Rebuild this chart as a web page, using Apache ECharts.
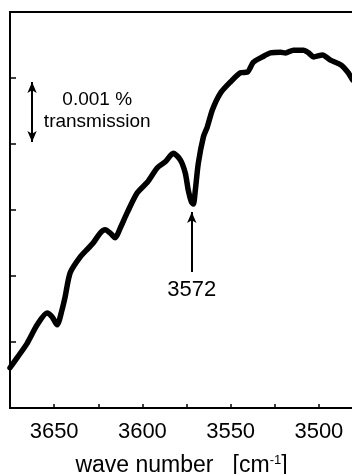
<!DOCTYPE html>
<html>
<head>
<meta charset="utf-8">
<script src="https://cdn.jsdelivr.net/npm/echarts@6/dist/echarts.min.js"></script>
<style>
  html, body { margin: 0; padding: 0; background: #fff; }
  #chart { width: 352px; height: 474px; }
</style>
</head>
<body>
<div id="chart"></div>
<script>
// IR transmission spectrum, O-H stretching region (relative units, 1 unit = 0.001 %)
const waveNumbers = [
  3675.0, 3671.0, 3665.3, 3659.6, 3654.0, 3651.1, 3648.3, 3645.5, 3643.8, 3640.9,
  3635.2, 3630.7, 3627.9, 3623.9, 3621.1, 3618.2, 3615.4, 3612.5, 3608.6, 3602.9,
  3597.2, 3591.5, 3587.0, 3582.5, 3578.5, 3575.7, 3574.0, 3572.2, 3571.1, 3570.0,
  3568.3, 3565.4, 3563.2, 3560.3, 3555.8, 3550.1, 3544.4, 3540.5, 3537.1, 3532.0,
  3527.4, 3521.7, 3518.9, 3514.4, 3508.7, 3505.8, 3503.0, 3497.9, 3493.4, 3487.7,
  3483.7, 3480.9
];
const transmission = [
  -0.39, -0.24, -0.02, 0.26, 0.44, 0.38, 0.26, 0.49, 0.68, 1.05,
  1.29, 1.42, 1.50, 1.65, 1.70, 1.65, 1.58, 1.73, 1.96, 2.26,
  2.42, 2.64, 2.73, 2.86, 2.76, 2.56, 2.30, 2.12, 2.09, 2.30,
  2.71, 3.11, 3.26, 3.52, 3.77, 3.94, 4.08, 4.09, 4.24, 4.32,
  4.38, 4.39, 4.38, 4.42, 4.42, 4.38, 4.32, 4.35, 4.27, 4.20,
  4.09, 3.97
];
const xTickLabels = [3650, 3600, 3550, 3500];

// annotated band and scale bar
const peakLabel = 3572;
const peakArrow = [1.06, 1.97];
const scaleBar = { x: 3662.5, from: 3.03, to: 3.94 };
const scaleText = '0.001 %\ntransmission';
const scaleTextPos = [3625.6, 3.5];

const chart = echarts.init(document.getElementById('chart'), null, { renderer: 'canvas' });
const font = 'Liberation Sans, Arial, Helvetica, sans-serif';

chart.setOption({
  animation: false,
  backgroundColor: '#fff',
  textStyle: { fontFamily: font },
  grid: {
    left: 10, top: 12, width: 353, height: 396,
    containLabel: false,
    outerBoundsMode: 'none',
    show: true, borderColor: '#000', borderWidth: 2, backgroundColor: 'transparent'
  },
  xAxis: {
    type: 'value',
    inverse: true,
    min: 3475, max: 3675, interval: 25,
    axisLine: { show: true, onZero: false, lineStyle: { color: '#000', width: 2 } },
    axisTick: { show: true, inside: true, length: 4, lineStyle: { color: '#000', width: 1.5 } },
    splitLine: { show: false },
    axisLabel: {
      color: '#000', fontSize: 22, fontFamily: font, margin: 13,
      formatter: v => (xTickLabels.indexOf(v) >= 0 ? String(v) : '')
    },
    name: '{t|wave number   [cm}{s|-1}{t|]}',
    nameLocation: 'middle',
    nameGap: 46,
    nameTextStyle: {
      padding: [0, 10, 0, 0],
      rich: {
        t: { fontSize: 23, color: '#000', fontFamily: font },
        s: { fontSize: 13, color: '#000', fontFamily: font, verticalAlign: 'top', padding: [0, 0, 10, 0] }
      }
    }
  },
  yAxis: {
    type: 'value',
    min: -1, max: 5, interval: 1,
    axisLine: { show: true, onZero: false, lineStyle: { color: '#000', width: 2 } },
    axisTick: { show: true, inside: true, length: 6, lineStyle: { color: '#000', width: 1.5 } },
    axisLabel: { show: false },
    splitLine: { show: false }
  },
  series: [{
    type: 'line',
    data: waveNumbers.map((w, i) => [w, transmission[i]]),
    showSymbol: false,
    smooth: 0.25,
    lineStyle: { color: '#000', width: 5.5, cap: 'round', join: 'round' },
    markLine: {
      silent: true,
      symbol: ['none', 'arrow'],
      symbolSize: [7, 11],
      lineStyle: { color: '#000', width: 2, type: 'solid' },
      data: [
        [
          { coord: [peakLabel, peakArrow[0]], symbol: 'none',
            label: { show: true, position: 'start', formatter: String(peakLabel),
                     color: '#000', fontSize: 22, fontFamily: font, distance: 7 } },
          { coord: [peakLabel, peakArrow[1]], symbol: 'arrow' }
        ],
        [
          { coord: [scaleBar.x, scaleBar.from], symbol: 'arrow', label: { show: false } },
          { coord: [scaleBar.x, scaleBar.to], symbol: 'arrow' }
        ]
      ]
    },
    markPoint: {
      silent: true,
      symbol: 'circle', symbolSize: 0,
      data: [{
        coord: scaleTextPos,
        label: {
          show: true, position: 'inside', formatter: scaleText,
          color: '#000', fontSize: 19, lineHeight: 22, fontFamily: font, align: 'center'
        }
      }]
    }
  }]
});
</script>
</body>
</html>
